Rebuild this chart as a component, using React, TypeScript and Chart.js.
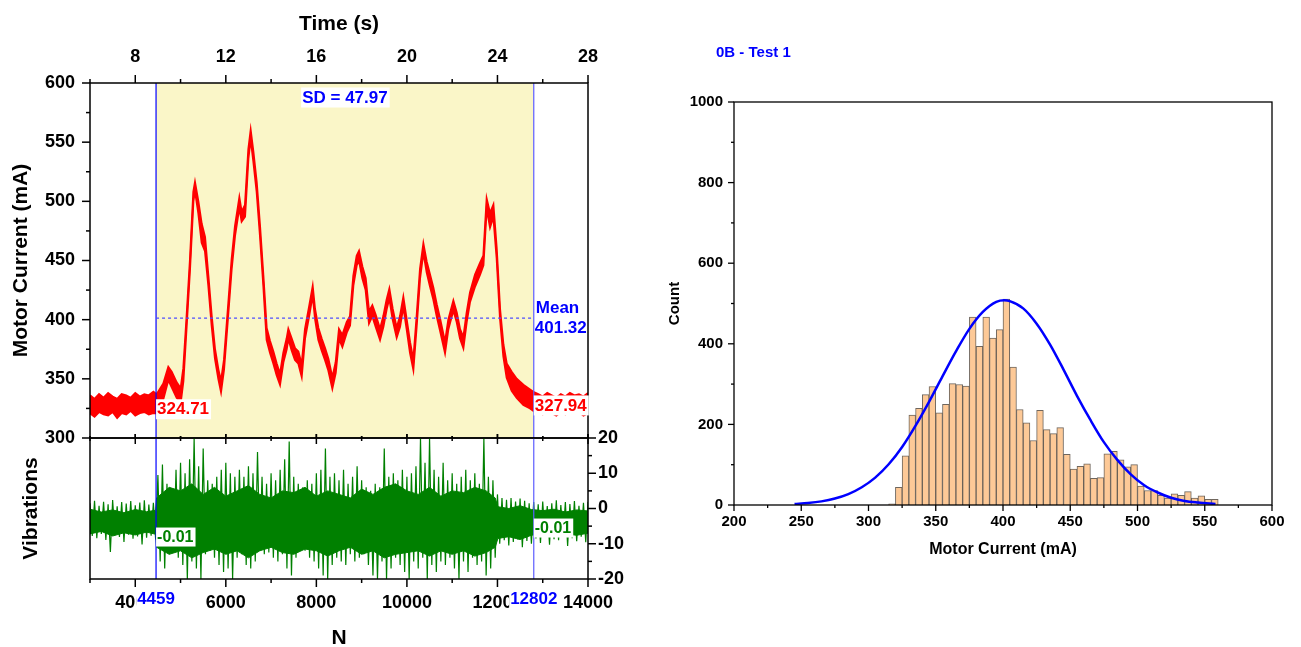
import { useEffect, useRef } from "react";
import { Chart, registerables } from "chart.js";

Chart.register(...registerables);

// ---------------- data ----------------
// Motor current trace: sample index N, upper and lower edge of the noisy band (mA)
const currentN = [
  3000, 3100, 3200, 3300, 3400, 3500, 3600, 3700, 3800, 3900, 4000, 4100, 4200, 4300, 4400,
  4473, 4620, 4730, 4804, 4914, 5003, 5062, 5135, 5209, 5283,
  5319, 5393, 5467, 5540, 5614, 5688, 5761, 5835, 5894, 5960,
  6056, 6129, 6203, 6299, 6350, 6424, 6498, 6549, 6608, 6682,
  6755, 6829, 6902, 6976, 7050, 7123, 7197, 7271, 7344, 7381,
  7455, 7528, 7602, 7676, 7749, 7845, 7919, 7970, 8044, 8117,
  8191, 8265, 8353, 8427, 8500, 8574, 8670, 8743, 8817, 8891,
  8942, 9016, 9089, 9163, 9236, 9310, 9406, 9480, 9553, 9612,
  9686, 9774, 9848, 9921, 9995, 10069, 10142, 10216, 10290, 10364,
  10437, 10511, 10584, 10658, 10731, 10842, 10915, 11026, 11100, 11173,
  11247, 11320, 11394, 11505, 11615, 11689, 11762, 11836, 11910, 11983,
  12057, 12131, 12204, 12314, 12425, 12572, 12720, 12793,
  12900, 13000, 13100, 13200, 13300, 13400, 13500, 13600, 13700, 13800, 13900, 14000,
];
const currentHigh = [
  336, 333, 337, 334, 338, 335, 333, 337, 336, 334, 338, 335, 337, 336, 339,
  337, 346, 360, 356, 347, 342, 359, 403, 451, 508,
  516, 500, 481, 470, 437, 403, 375, 358, 348, 366,
  414, 451, 479, 503, 491, 497, 544, 560, 542, 516,
  479, 437, 393, 382, 373, 363, 354, 372, 384, 392,
  384, 376, 373, 362, 392, 412, 428, 409, 393, 384,
  376, 367, 351, 364, 392, 387, 398, 403, 437, 454,
  458, 445, 435, 407, 412, 404, 392, 403, 417, 426,
  409, 393, 403, 419, 400, 381, 366, 403, 443, 464,
  449, 438, 427, 413, 401, 381, 400, 416, 406, 392,
  385, 406, 423, 438, 448, 454, 502, 490, 497, 460,
  409, 379, 363, 356, 350, 345, 341, 339,
  337, 335, 338, 336, 334, 337, 335, 338, 336, 337, 335, 338,
];
const currentLow = [
  321, 318, 322, 320, 319, 322, 317, 321, 320, 323, 319, 321, 322, 320, 321,
  321, 333, 349, 343, 334, 330, 348, 395, 443, 500,
  509, 490, 465, 458, 429, 395, 367, 350, 339, 358,
  406, 443, 471, 495, 483, 487, 536, 553, 534, 508,
  471, 429, 383, 372, 363, 353, 345, 364, 375, 384,
  374, 366, 363, 352, 384, 404, 421, 401, 383, 374,
  366, 357, 342, 355, 384, 377, 389, 395, 429, 446,
  450, 435, 425, 397, 403, 394, 383, 394, 409, 418,
  400, 385, 394, 411, 392, 372, 358, 395, 435, 457,
  440, 428, 417, 403, 391, 372, 392, 408, 398, 384,
  376, 398, 415, 428, 438, 446, 494, 478, 487, 452,
  401, 369, 351, 340, 334, 328, 325, 323,
  322, 320, 323, 321, 319, 322, 320, 323, 321, 322, 319, 321,
];

const windowStartN = 4459;
const windowEndN = 12802;
const meanCurrent = 401.32;
const sdCurrent = 47.97;
const startCurrent = 324.71;
const endCurrent = 327.94;
const startVibration = -0.01;
const endVibration = -0.01;

// Vibration: peaks sampled every 100 N from N=3000 (high) and troughs half a step later (low)
const vibStartN = 3000;
const vibStepN = 100;
const vibHigh = [
  1.5, 2.2, 0.8, 1.9, 1.2, 2.4, 0.6, 1.8, 1.4, 2.1, 0.9, 1.7, 2.3, 1.1, 1.6,
  9.5, 12.5, 7, 5, 11, 13, 10, 14, 20, 12,
  17, 8, 7, 9, 11, 13, 10, 9, 11, 9,
  12, 10, 16, 9, 7, 10, 8, 11, 14, 19,
  9, 7, 6, 8, 7, 10, 11, 17, 9, 10,
  8, 11, 7, 9, 12, 8, 6, 5, 7, 6,
  17, 9, 10, 8, 11, 9, 10, 12, 20, 13,
  20, 11, 9, 13, 8, 10, 7, 9, 11, 8,
  10, 7, 20, 9, 8, 4, 3, 2.5, 3, 2,
  2.8, 2.2, 1.5, 1.8, 1.2, 2.0, 0.7, 1.5, 2.3, 1.0,
  1.8, 1.3, 2.1, 0.8, 1.6, 1.9,
];
const vibLow = [
  -7.8, -8.4, -7.2, -8.9, -12.3, -7.6, -8.1, -9.5, -7.4, -8.6, -7.9, -10.2, -8.3, -7.7, -8.8,
  -15, -17, -13, -12.5, -14, -16, -20, -15, -17, -20,
  -13, -12, -14, -16, -18, -17, -20, -14, -13, -16,
  -17, -15, -12, -13, -12.5, -14, -15, -13, -17, -19,
  -14, -12, -12, -14, -15, -17, -19, -20, -16, -14,
  -15, -16, -13, -15, -14, -13, -16, -19, -20, -15,
  -20, -17, -14, -16, -18, -20, -15, -17, -14, -20,
  -16, -18, -15, -16, -14, -17, -20, -15, -18, -14,
  -16, -15, -19, -17, -14, -10, -9, -10.5, -9.5, -8.8,
  -11, -9.2, -10, -8.5, -9.8, -8.1, -10.3, -8.7, -9.0, -7.9,
  -10.6, -8.4, -9.3, -8.0, -9.6, -8.6,
];
// dense core of the vibration signal
const coreN = [
  3000, 3250, 3500, 3750, 4000, 4250, 4450,
  4470, 4750, 5000, 5250, 5500, 5750, 6000, 6250, 6500, 6750,
  7000, 7250, 7500, 7750, 8000, 8250, 8500, 8750, 9000, 9250,
  9500, 9750, 10000, 10250, 10500, 10750, 11000, 11250, 11500, 11750,
  11950,
  12010, 12250, 12500, 12750, 13000, 13250, 13500, 13750, 14000,
];
const coreHigh = [
  -0.2, -1.0, -0.4, -1.2, -0.3, -0.9, -0.5,
  3, 6, 5, 7, 4, 6, 3.5, 5, 6.5, 4,
  3, 5, 4.5, 6, 3.5, 5, 4, 3, 5.5, 4,
  6, 7, 5, 4, 6, 3.5, 5, 4.5, 6, 5,
  3,
  0.5, 0, 0.8, -0.3, -0.6, -0.2, -1.0, -0.4, -0.7,
];
const coreLow = [
  -7.2, -6.5, -7.8, -6.9, -7.5, -6.7, -7.3,
  -11, -13, -12, -14, -12.5, -11.5, -13, -12, -14, -12,
  -11, -12.5, -13, -11.5, -12, -13.5, -12, -11, -13, -12,
  -14, -13, -12.5, -12, -13.5, -12, -13, -12, -13.5, -12.5,
  -11,
  -8.5, -8, -8.8, -7.6, -7.0, -7.8, -7.2, -7.6, -7.0,
];

// Ticks
const timeTicks = [8, 12, 16, 20, 24, 28];
const timeMinor = [6, 10, 14, 18, 22, 26];
const nTicks = [4000, 6000, 8000, 10000, 12000, 14000];
const nMinor = [3000, 5000, 7000, 9000, 11000, 13000];
const currentTicks = [300, 350, 400, 450, 500, 550, 600];
const currentMinor = [325, 375, 425, 475, 525, 575];
const vibTicks = [-20, -10, 0, 10, 20];
const vibMinor = [-15, -5, 5, 15];

// Histogram
const histTitle = "0B - Test 1";
const binCenters = [
  317.5, 322.5, 327.5, 332.5, 337.5, 342.5, 347.5, 352.5, 357.5, 362.5,
  367.5, 372.5, 377.5, 382.5, 387.5, 392.5, 397.5, 402.5, 407.5, 412.5,
  417.5, 422.5, 427.5, 432.5, 437.5, 442.5, 447.5, 452.5, 457.5, 462.5,
  467.5, 472.5, 477.5, 482.5, 487.5, 492.5, 497.5, 502.5, 507.5, 512.5,
  517.5, 522.5, 527.5, 532.5, 537.5, 542.5, 547.5, 552.5, 557.5,
];
const binCounts = [
  3, 44, 122, 223, 240, 274, 294, 229, 250, 301,
  299, 295, 466, 394, 466, 414, 435, 511, 342, 237,
  204, 160, 235, 187, 177, 192, 126, 89, 96, 102,
  66, 68, 127, 133, 112, 95, 100, 47, 36, 36,
  24, 17, 28, 24, 33, 17, 23, 14, 14,
];
const curveX = [245, 255, 265, 275, 285, 295, 305, 315, 325, 335, 345, 355, 365, 375, 385, 395, 401, 405, 415, 425, 435, 445, 455, 465, 475, 485, 495, 505, 515, 525, 535, 545, 558];
const curveY = [2.5, 4.9, 9, 16, 27, 44, 68, 101, 144, 197, 256, 319, 381, 437, 479, 504, 508, 506, 488, 450, 398, 336, 271, 211, 156, 112, 76, 49, 31, 18, 10, 6, 2.5];
const histXTicks = [200, 250, 300, 350, 400, 450, 500, 550, 600];
const histXMinor = [225, 275, 325, 375, 425, 475, 525, 575];
const histYTicks = [0, 200, 400, 600, 800, 1000];
const histYMinor = [100, 300, 500, 700, 900];

// ---------------- helpers ----------------
const FONT = "'Liberation Sans', Arial, Helvetica, sans-serif";
const BLUE = "#0000FF";
const BLUE_LIGHT = "#5c5cff";
const RED = "#FF0000";
const GREEN = "#008000";

const f = (size: number, lineHeight = 1.2) => ({ family: FONT, size, weight: "bold" as const, lineHeight });
const setTicks = (vals: number[]) => (s: any) => {
  s.ticks = vals.map((v) => ({ value: v }));
};
const label = (v: any) => String(v);
const fixSize = (prop: "width" | "height", v: number) => (s: any) => {
  s[prop] = v;
  s.paddingLeft = 0;
  s.paddingRight = 0;
  s.paddingTop = 0;
  s.paddingBottom = 0;
};

function seg(ctx: CanvasRenderingContext2D, x1: number, y1: number, x2: number, y2: number) {
  ctx.beginPath();
  ctx.moveTo(x1, y1);
  ctx.lineTo(x2, y2);
  ctx.stroke();
}

function tag(
  ctx: CanvasRenderingContext2D,
  text: string,
  x: number,
  y: number,
  color: string,
  size: number,
  align: "left" | "center",
  bg: boolean
) {
  ctx.font = `bold ${size}px ${FONT}`;
  const w = ctx.measureText(text).width;
  const left = align === "center" ? x - w / 2 : x;
  if (bg) {
    ctx.fillStyle = "#fff";
    ctx.fillRect(left - 1, y - size / 2 - 1, w + 3, size + 3);
  }
  ctx.fillStyle = color;
  ctx.textAlign = "left";
  ctx.textBaseline = "middle";
  ctx.fillText(text, left, y + 1);
}

const noGrid = { display: false, drawTicks: false };
const noBorder = { display: false };

// ---------------- component ----------------
export default function App() {
  const topRef = useRef<HTMLCanvasElement>(null);
  const botRef = useRef<HTMLCanvasElement>(null);
  const histRef = useRef<HTMLCanvasElement>(null);

  useEffect(() => {
    const topDeco = {
      id: "topDeco",
      afterDraw(chart: any) {
        const { ctx, chartArea: a, scales } = chart;
        const x = scales.x;
        const y = scales.y;
        const t = scales.xTime;
        ctx.save();
        ctx.strokeStyle = "#000";
        ctx.lineWidth = 1.5;
        ctx.strokeRect(a.left, a.top, a.right - a.left, a.bottom - a.top);
        currentTicks.forEach((v) => { const p = y.getPixelForValue(v); seg(ctx, a.left - 8, p, a.left, p); });
        currentMinor.forEach((v) => { const p = y.getPixelForValue(v); seg(ctx, a.left - 4, p, a.left, p); });
        timeTicks.forEach((v) => { const p = t.getPixelForValue(v); seg(ctx, p, a.top - 8, p, a.top); });
        timeMinor.forEach((v) => { const p = t.getPixelForValue(v); seg(ctx, p, a.top - 4, p, a.top); });
        nTicks.forEach((v) => { const p = x.getPixelForValue(v); seg(ctx, p, a.bottom - 4, p, a.bottom); });
        nMinor.forEach((v) => { const p = x.getPixelForValue(v); seg(ctx, p, a.bottom - 2, p, a.bottom); });
        const sx = x.getPixelForValue(windowStartN);
        const ex = x.getPixelForValue(windowEndN);
        const my = y.getPixelForValue(meanCurrent);
        tag(ctx, `SD = ${sdCurrent.toFixed(2)}`, (sx + ex) / 2, a.top + 14, BLUE, 17, "center", true);
        tag(ctx, "Mean", ex + 2, my - 11, BLUE, 17, "left", false);
        tag(ctx, meanCurrent.toFixed(2), ex + 1, my + 9, BLUE, 17, "left", false);
        tag(ctx, startCurrent.toFixed(2), sx + 1, y.getPixelForValue(startCurrent), RED, 17, "left", true);
        tag(ctx, endCurrent.toFixed(2), ex + 1, y.getPixelForValue(endCurrent), RED, 17, "left", true);
        ctx.restore();
      },
    };

    const botDeco = {
      id: "botDeco",
      afterDraw(chart: any) {
        const { ctx, chartArea: a, scales } = chart;
        const x = scales.x;
        const y = scales.yVibR;
        ctx.save();
        ctx.strokeStyle = "#000";
        ctx.lineWidth = 1.5;
        ctx.strokeRect(a.left, a.top, a.right - a.left, a.bottom - a.top);
        nTicks.forEach((v) => { const p = x.getPixelForValue(v); seg(ctx, p, a.bottom, p, a.bottom + 8); seg(ctx, p, a.top - 4, p, a.top + 6); });
        nMinor.forEach((v) => { const p = x.getPixelForValue(v); seg(ctx, p, a.bottom, p, a.bottom + 4); seg(ctx, p, a.top - 2, p, a.top + 3); });
        vibTicks.forEach((v) => { const p = y.getPixelForValue(v); seg(ctx, a.right, p, a.right + 8, p); });
        vibMinor.forEach((v) => { const p = y.getPixelForValue(v); seg(ctx, a.right, p, a.right + 4, p); });
        const sx = x.getPixelForValue(windowStartN);
        const ex = x.getPixelForValue(windowEndN);
        tag(ctx, startVibration.toFixed(2), sx + 1, y.getPixelForValue(startVibration) + 28, GREEN, 16, "left", true);
        tag(ctx, endVibration.toFixed(2), ex + 1, y.getPixelForValue(endVibration) + 19, GREEN, 16, "left", true);
        tag(ctx, String(windowStartN), sx, a.bottom + 19, BLUE, 17, "center", true);
        tag(ctx, String(windowEndN), ex, a.bottom + 19, BLUE, 17, "center", true);
        ctx.restore();
      },
    };

    const histDeco = {
      id: "histDeco",
      afterDraw(chart: any) {
        const { ctx, chartArea: a, scales } = chart;
        const x = scales.x;
        const y = scales.y;
        ctx.save();
        ctx.strokeStyle = "#000";
        ctx.lineWidth = 1.3;
        ctx.strokeRect(a.left, a.top, a.right - a.left, a.bottom - a.top);
        histYTicks.forEach((v) => { const p = y.getPixelForValue(v); seg(ctx, a.left - 6, p, a.left, p); });
        histYMinor.forEach((v) => { const p = y.getPixelForValue(v); seg(ctx, a.left - 3, p, a.left, p); });
        histXTicks.forEach((v) => { const p = x.getPixelForValue(v); seg(ctx, p, a.bottom, p, a.bottom + 6); });
        histXMinor.forEach((v) => { const p = x.getPixelForValue(v); seg(ctx, p, a.bottom, p, a.bottom + 3); });
        tag(ctx, histTitle, a.left - 18, 52, BLUE, 15, "left", false);
        ctx.restore();
      },
    };

    const common = {
      responsive: false,
      animation: false as const,
      devicePixelRatio: 1,
      events: [] as any[],
    };
    const noPlugins = { legend: { display: false }, tooltip: { enabled: false } };

    const topChart = new Chart(topRef.current!, {
      type: "line",
      data: {
        datasets: [
          {
            data: currentN.map((n, i) => ({ x: n, y: currentHigh[i] })),
            borderColor: RED, backgroundColor: RED, borderWidth: 2, pointRadius: 0, fill: "+1", order: 1,
          },
          {
            data: currentN.map((n, i) => ({ x: n, y: currentLow[i] })),
            borderColor: RED, borderWidth: 2, pointRadius: 0, fill: false, order: 1,
          },
          {
            data: [{ x: windowStartN, y: meanCurrent }, { x: windowEndN, y: meanCurrent }],
            borderColor: "#4d4dff", borderWidth: 1.2, borderDash: [3, 3], pointRadius: 0, fill: false, order: 0,
          },
          {
            data: [{ x: windowStartN, y: 300 }, { x: windowStartN, y: 600 }],
            borderColor: BLUE, borderWidth: 1.2, pointRadius: 0, fill: false, order: 0,
          },
          {
            data: [{ x: windowEndN, y: 300 }, { x: windowEndN, y: 600 }],
            borderColor: BLUE_LIGHT, borderWidth: 1.2, pointRadius: 0, fill: false, order: 0,
          },
          {
            data: [{ x: windowStartN, y: 600 }, { x: windowEndN, y: 600 }],
            borderWidth: 0, backgroundColor: "#FAF6C8", pointRadius: 0, fill: "start", order: 9,
          },
        ],
      },
      options: {
        ...common,
        layout: { padding: { left: 0, right: 12, top: 0, bottom: 12 } },
        plugins: noPlugins,
        scales: {
          x: { type: "linear", min: 3000, max: 14000, display: false },
          xTime: {
            type: "linear", position: "top", min: 6, max: 28,
            afterBuildTicks: setTicks(timeTicks),
            afterFit: fixSize("height", 83),
            grid: noGrid, border: noBorder,
            ticks: { font: f(18), color: "#000", padding: 15, maxRotation: 0, autoSkip: false, callback: label },
            title: { display: true, text: "Time (s)", font: f(21), color: "#000", padding: { top: 12, bottom: 0 } },
          },
          y: {
            type: "linear", position: "left", min: 300, max: 600,
            afterBuildTicks: setTicks(currentTicks),
            afterFit: fixSize("width", 90),
            grid: noGrid, border: noBorder,
            ticks: { font: f(18), color: "#000", padding: 15, autoSkip: false, callback: label },
            title: { display: true, text: "Motor Current (mA)", font: f(21), color: "#000", padding: { top: 9, bottom: 0 } },
          },
        },
      } as any,
      plugins: [topDeco],
    });

    const spikes: { x: number; y: number }[] = [];
    vibHigh.forEach((h, i) => {
      spikes.push({ x: vibStartN + i * vibStepN, y: h });
      spikes.push({ x: vibStartN + i * vibStepN + vibStepN / 2, y: vibLow[i] });
    });

    const botChart = new Chart(botRef.current!, {
      type: "line",
      data: {
        datasets: [
          {
            data: coreN.map((n, i) => ({ x: n, y: coreHigh[i] })),
            yAxisID: "yVib", borderColor: GREEN, borderWidth: 1, backgroundColor: GREEN, pointRadius: 0, fill: "+1", order: 2,
          },
          {
            data: coreN.map((n, i) => ({ x: n, y: coreLow[i] })),
            yAxisID: "yVib", borderColor: GREEN, borderWidth: 1, pointRadius: 0, fill: false, order: 2,
          },
          {
            data: spikes,
            yAxisID: "yVib", borderColor: GREEN, borderWidth: 1.2, pointRadius: 0, fill: false, order: 1,
          },
          {
            data: [{ x: windowStartN, y: -20 }, { x: windowStartN, y: 20 }],
            yAxisID: "yVib", borderColor: BLUE, borderWidth: 1.2, pointRadius: 0, fill: false, order: 0,
          },
          {
            data: [{ x: windowEndN, y: -20 }, { x: windowEndN, y: 20 }],
            yAxisID: "yVib", borderColor: BLUE_LIGHT, borderWidth: 1.2, pointRadius: 0, fill: false, order: 0,
          },
        ],
      },
      options: {
        ...common,
        layout: { padding: { left: 0, right: 0, top: 8, bottom: 0 } },
        plugins: noPlugins,
        scales: {
          x: {
            type: "linear", position: "bottom", min: 3000, max: 14000,
            afterBuildTicks: setTicks(nTicks),
            afterFit: fixSize("height", 68),
            grid: noGrid, border: noBorder,
            ticks: { font: f(18), color: "#000", padding: 13, maxRotation: 0, autoSkip: false, callback: label },
            title: { display: true, text: "N", font: f(21, 1), color: "#000", padding: { top: 0, bottom: -2 } },
          },
          yVib: {
            type: "linear", position: "left", min: -20, max: 20,
            afterFit: fixSize("width", 90),
            grid: noGrid, border: noBorder,
            ticks: { display: false },
            title: { display: true, text: "Vibrations", font: f(21), color: "#000", padding: { top: 19, bottom: 0 } },
          },
          yVibR: {
            type: "linear", position: "right", min: -20, max: 20,
            afterBuildTicks: setTicks(vibTicks),
            afterFit: fixSize("width", 52),
            grid: noGrid, border: noBorder,
            ticks: { font: f(18), color: "#000", padding: 10, autoSkip: false, callback: label },
          },
        },
      } as any,
      plugins: [botDeco],
    });

    const histChart = new Chart(histRef.current!, {
      type: "bar",
      data: {
        datasets: [
          {
            type: "line",
            data: curveX.map((v, i) => ({ x: v, y: curveY[i] })),
            borderColor: BLUE, borderWidth: 2.5, pointRadius: 0, fill: false,
            cubicInterpolationMode: "monotone", order: 0,
          } as any,
          {
            type: "bar",
            data: binCenters.map((c, i) => ({ x: c, y: binCounts[i] })),
            backgroundColor: "#FDC997", borderColor: "rgba(95,85,75,0.9)", borderWidth: 1,
            barPercentage: 1, categoryPercentage: 1, order: 1,
          } as any,
        ],
      },
      options: {
        ...common,
        layout: { padding: { left: 0, right: 29, top: 102, bottom: 82 } },
        plugins: noPlugins,
        scales: {
          x: {
            type: "linear", min: 200, max: 600, offset: false,
            afterBuildTicks: setTicks(histXTicks),
            afterFit: fixSize("height", 60),
            grid: { ...noGrid, offset: false }, border: noBorder,
            ticks: { font: f(15), color: "#000", padding: 8, maxRotation: 0, autoSkip: false, callback: label },
            title: { display: true, text: "Motor Current (mA)", font: f(16), color: "#000", padding: { top: 0, bottom: 6 } },
          },
          y: {
            type: "linear", min: 0, max: 1000,
            afterBuildTicks: setTicks(histYTicks),
            afterFit: fixSize("width", 94),
            grid: noGrid, border: noBorder,
            ticks: { font: f(15), color: "#000", padding: 11, autoSkip: false, callback: label },
            title: { display: true, text: "Count", font: f(15), color: "#000", padding: { top: 26, bottom: 0 } },
          },
        },
      } as any,
      plugins: [histDeco],
    });

    return () => {
      topChart.destroy();
      botChart.destroy();
      histChart.destroy();
    };
  }, []);

  return (
    <div style={{ position: "absolute", left: 0, top: 0, width: 1301, height: 647, background: "#fff", overflow: "hidden" }}>
      <canvas ref={topRef} width={600} height={450} style={{ position: "absolute", left: 0, top: 0 }} />
      <canvas ref={botRef} width={640} height={217} style={{ position: "absolute", left: 0, top: 430 }} />
      <canvas ref={histRef} width={661} height={647} style={{ position: "absolute", left: 640, top: 0 }} />
    </div>
  );
}
